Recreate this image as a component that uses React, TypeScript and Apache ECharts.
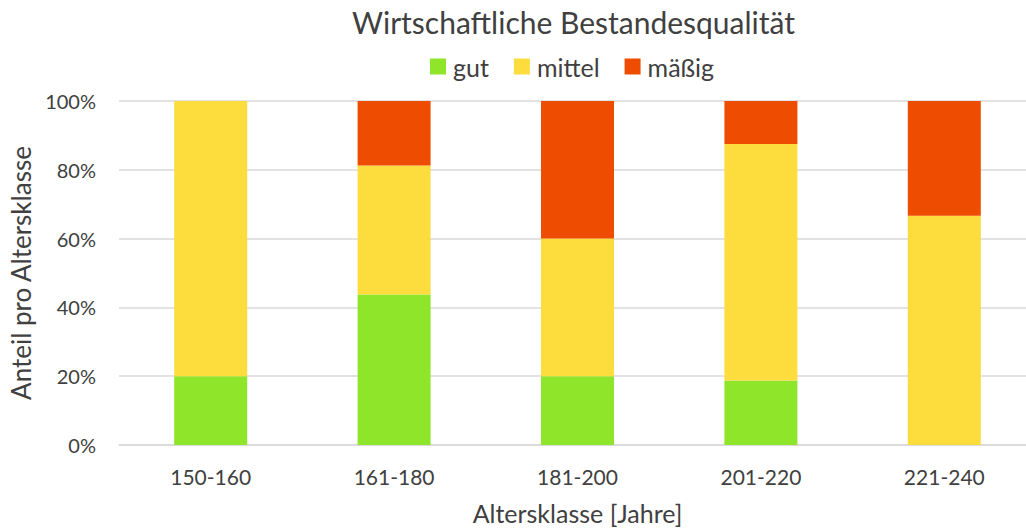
import React, { useEffect, useRef } from "react";
import * as echarts from "echarts";

const categories = ["150-160", "161-180", "181-200", "201-220", "221-240"];
const gut = [20, 43.75, 20, 18.75, 0];
const mittel = [80, 37.5, 40, 68.75, 66.67];
const maessig = [0, 18.75, 40, 12.5, 33.33];
const yTicks = [0, 20, 40, 60, 80, 100];

const FONT = "Lato";

export default function App() {
  const ref = useRef<HTMLDivElement>(null);
  useEffect(() => {
    const chart = echarts.init(ref.current!, null, { renderer: "svg" });
    const mk = (name: string, data: number[], color: string) => ({
      name,
      type: "bar",
      stack: "total",
      data,
      barWidth: 73,
      itemStyle: { color },
    });
    chart.setOption({
      animation: false,
      textStyle: { fontFamily: FONT },
      title: {
        text: "Wirtschaftliche Bestandesqualität",
        left: 347,
        top: 2,
        textStyle: { fontFamily: FONT, fontSize: 30, fontWeight: "normal", color: "#404040" },
      },
      legend: {
        top: 49,
        left: 425,
        itemWidth: 16,
        itemHeight: 16,
        itemGap: 25,
        icon: "rect",
        textStyle: { fontFamily: FONT, fontSize: 25, color: "#404040", padding: [0, 0, 0, 2] },
        data: ["gut", "mittel", "mäßig"],
      },
      grid: { left: 119, right: -10, top: 101, bottom: 83, outerBoundsMode: "none", containLabel: false },
      xAxis: {
        type: "category",
        data: categories,
        axisLine: { lineStyle: { color: "#d9d9d9", width: 1.5 } },
        axisTick: { show: false },
        axisLabel: { fontFamily: FONT, fontSize: 21, color: "#404040", margin: 21 },
        name: "Altersklasse [Jahre]",
        nameLocation: "middle",
        nameGap: 55,
        nameTextStyle: { fontFamily: FONT, fontSize: 25, color: "#404040" },
      },
      yAxis: {
        type: "value",
        min: yTicks[0],
        max: yTicks[yTicks.length - 1],
        interval: 20,
        axisLine: { show: false },
        axisTick: { show: false },
        splitLine: { lineStyle: { color: "#d9d9d9", width: 1.5 } },
        axisLabel: { fontFamily: FONT, fontSize: 20, color: "#404040", margin: 23, formatter: "{value}%" },
        name: "Anteil pro Altersklasse",
        nameLocation: "middle",
        nameGap: 82,
        nameTextStyle: { fontFamily: FONT, fontSize: 26, color: "#404040" },
      },
      series: [
        mk("gut", gut, "#8ee52a"),
        mk("mittel", mittel, "#fddc3e"),
        mk("mäßig", maessig, "#ee4c00"),
      ],
    });
    return () => chart.dispose();
  }, []);
  return (
    <div
      ref={ref}
      style={{ position: "absolute", left: 0, top: 0, width: 1026, height: 528 }}
    />
  );
}
